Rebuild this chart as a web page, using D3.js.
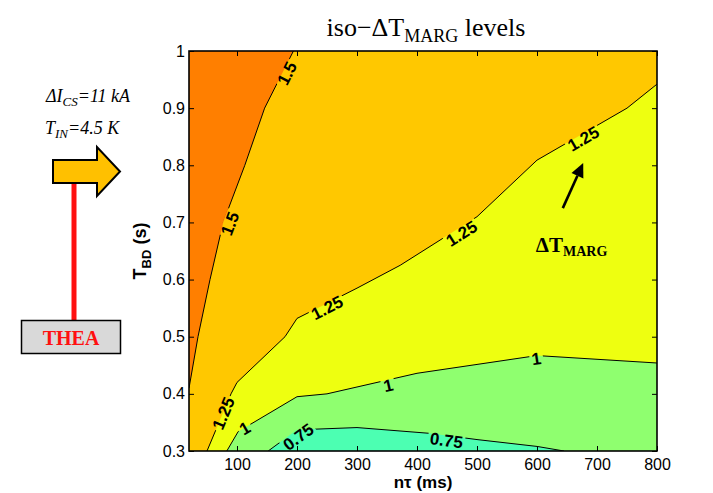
<!DOCTYPE html>
<html>
<head>
<meta charset="utf-8">
<script src="https://cdn.jsdelivr.net/npm/d3@7"></script>
<style>
  html, body { margin: 0; padding: 0; background: #fff; }
  svg { display: block; }
</style>
</head>
<body>
<div id="chart"></div>
<script>
// ---------------- data ----------------
const xDomain = [20, 800];          // n·tau (ms)
const yDomain = [0.3, 1.0];         // T_BD (s)
const xTicks = [100, 200, 300, 400, 500, 600, 700, 800];
const xTickLabels = ["100", "200", "300", "400", "500", "600", "700", "800"];
const yTicks = [0.3, 0.4, 0.5, 0.6, 0.7, 0.8, 0.9, 1.0];
const yTickLabels = ["0.3", "0.4", "0.5", "0.6", "0.7", "0.8", "0.9", "1"];

// iso-ΔT_MARG contour lines, [n·tau (ms), T_BD (s)]
const level150 = [[194, 1.0], [146, 0.9], [113, 0.8], [77, 0.7], [55, 0.6], [35, 0.5], [20, 0.41]];
const level125 = [[50, 0.3], [90, 0.4], [100, 0.42], [180, 0.5], [200, 0.532], [300, 0.585], [372, 0.625], [500, 0.71], [600, 0.809], [750, 0.9], [800, 0.942]];
const level100 = [[83, 0.3], [102, 0.334], [200, 0.395], [250, 0.40], [400, 0.436], [600, 0.467], [800, 0.454]];
const level075 = [[152, 0.3], [200, 0.337], [300, 0.341], [420, 0.331], [500, 0.32], [600, 0.308], [645, 0.3]];

const bandColors = ["#FF7F00", "#FFC800", "#EEFF10", "#8FFF6F", "#4CFFB2"]; // >1.5, 1.25-1.5, 1-1.25, 0.75-1, <0.75

// contour labels: text, level index, data position
const labelText = ["1.5", "1.5", "1.25", "1.25", "1.25", "1.25", "1", "1", "1", "0.75", "0.75"];
const labelLevel = [0, 0, 1, 1, 1, 1, 2, 2, 2, 3, 3];
const labelX = [183, 88, 677, 474, 250, 77, 113, 352, 599, 202, 449];
const labelY = [0.961, 0.698, 0.847, 0.681, 0.551, 0.366, 0.340, 0.415, 0.462, 0.325, 0.319];

const margArrow = [[643, 0.725], [677, 0.804]];
const margTextPos = [598, 0.649];

// ---------------- layout ----------------
const W = 713, H = 493;
const L = 189, R = 657, T = 51, B = 451;
const sans = "'Liberation Sans', Arial, Helvetica, sans-serif";
const serif = "'Liberation Serif', 'Times New Roman', Times, serif";

const svg = d3.select("#chart").append("svg")
  .attr("width", W).attr("height", H)
  .attr("viewBox", `0 0 ${W} ${H}`);

const x = d3.scaleLinear().domain(xDomain).range([L, R]);
const y = d3.scaleLinear().domain(yDomain).range([B, T]);

const defs = svg.append("defs");
defs.append("clipPath").attr("id", "plotClip")
  .append("rect").attr("x", L).attr("y", T).attr("width", R - L).attr("height", B - T);

const line = d3.line().x(d => x(d[0])).y(d => y(d[1]));

// ---------------- filled bands ----------------
const fills = svg.append("g").attr("clip-path", "url(#plotClip)");
fills.append("rect").attr("x", L).attr("y", T).attr("width", R - L).attr("height", B - T)
  .attr("fill", bandColors[1]);
fills.append("path").attr("d", line(level150.concat([[xDomain[0], yDomain[1]]])) + "Z")
  .attr("fill", bandColors[0]);
fills.append("path").attr("d", line(level125.concat([[xDomain[1], yDomain[0]]])) + "Z")
  .attr("fill", bandColors[2]);
fills.append("path").attr("d", line(level100.concat([[xDomain[1], yDomain[0]]])) + "Z")
  .attr("fill", bandColors[3]);
fills.append("path").attr("d", line(level075) + "Z")
  .attr("fill", bandColors[4]);

// ---------------- contour labels (measure first) ----------------
const levels = [level150, level125, level100, level075];
function localAngle(levelPts, px, py) {
  let best = Infinity, ang = 0;
  for (let i = 0; i < levelPts.length - 1; i++) {
    const ax = x(levelPts[i][0]), ay = y(levelPts[i][1]);
    const bx = x(levelPts[i + 1][0]), by = y(levelPts[i + 1][1]);
    const dx = bx - ax, dy = by - ay;
    const len2 = dx * dx + dy * dy;
    let t = ((px - ax) * dx + (py - ay) * dy) / len2;
    t = Math.max(0, Math.min(1, t));
    const cx = ax + t * dx, cy = ay + t * dy;
    const d = (px - cx) ** 2 + (py - cy) ** 2;
    if (d < best) {
      best = d;
      let a = Math.atan2(dy, dx) * 180 / Math.PI;
      if (a > 90) a -= 180;
      if (a < -90) a += 180;
      ang = a;
    }
  }
  return ang;
}

const labelData = labelText.map((t, i) => {
  const px = x(labelX[i]), py = y(labelY[i]);
  return { text: t, px, py, angle: localAngle(levels[labelLevel[i]], px, py) };
});

const labelsG = svg.append("g").attr("clip-path", "url(#plotClip)");
const labelNodes = labelsG.selectAll("text").data(labelData).enter().append("text")
  .attr("transform", d => `translate(${d.px},${d.py}) rotate(${d.angle})`)
  .attr("text-anchor", "middle")
  .attr("dy", "0.36em")
  .attr("font-family", sans)
  .attr("font-weight", "bold")
  .attr("font-size", 17)
  .attr("fill", "#000")
  .text(d => d.text);

labelNodes.each(function (d) { d.w = this.getComputedTextLength(); });

// mask to break contour lines under labels
const mask = defs.append("mask").attr("id", "lineMask").attr("maskUnits", "userSpaceOnUse")
  .attr("x", 0).attr("y", 0).attr("width", W).attr("height", H);
mask.append("rect").attr("x", 0).attr("y", 0).attr("width", W).attr("height", H).attr("fill", "#fff");
mask.selectAll("rect.hole").data(labelData).enter().append("rect")
  .attr("class", "hole")
  .attr("x", d => -d.w / 2 - 2).attr("y", -7.5).attr("width", d => d.w + 4).attr("height", 15)
  .attr("transform", d => `translate(${d.px},${d.py}) rotate(${d.angle})`)
  .attr("fill", "#000");

// ---------------- contour lines ----------------
const linesG = svg.insert("g", function () { return labelsG.node(); })
  .attr("clip-path", "url(#plotClip)");
const linesInner = linesG.append("g").attr("mask", "url(#lineMask)");
linesInner.selectAll("path").data(levels).enter().append("path")
  .attr("d", d => line(d))
  .attr("fill", "none")
  .attr("stroke", "#000")
  .attr("stroke-width", 1);

// ---------------- axes ----------------
const axFont = g => g.selectAll("text").attr("font-family", sans).attr("font-size", 16).attr("fill", "#000");
const axStyle = g => { g.select(".domain").remove(); g.selectAll("line").attr("stroke", "#000").attr("stroke-width", 1); };

svg.append("g").attr("transform", `translate(0,${B})`)
  .call(d3.axisBottom(x).tickValues(xTicks).tickFormat((d, i) => xTickLabels[i]).tickSizeInner(-5).tickSizeOuter(0).tickPadding(8))
  .call(axStyle).call(axFont);
svg.append("g").attr("transform", `translate(0,${T})`)
  .call(d3.axisTop(x).tickValues(xTicks).tickFormat("").tickSizeInner(-5).tickSizeOuter(0))
  .call(axStyle);
svg.append("g").attr("transform", `translate(${L},0)`)
  .call(d3.axisLeft(y).tickValues(yTicks).tickFormat((d, i) => yTickLabels[i]).tickSizeInner(-5).tickSizeOuter(0).tickPadding(4))
  .call(axStyle).call(axFont);
svg.append("g").attr("transform", `translate(${R},0)`)
  .call(d3.axisRight(y).tickValues(yTicks).tickFormat("").tickSizeInner(-5).tickSizeOuter(0))
  .call(axStyle);

svg.append("rect").attr("x", L).attr("y", T).attr("width", R - L).attr("height", B - T)
  .attr("fill", "none").attr("stroke", "#000").attr("stroke-width", 1.6);

// axis titles
const xl = svg.append("text").attr("x", (L + R) / 2).attr("y", 488).attr("text-anchor", "middle")
  .attr("font-family", sans).attr("font-weight", "bold").attr("font-size", 17).attr("fill", "#000");
xl.text("nτ (ms)");

const yl = svg.append("text").attr("transform", `translate(146,${(T + B) / 2}) rotate(-90)`)
  .attr("text-anchor", "middle").attr("font-family", sans).attr("font-weight", "bold").attr("fill", "#000");
yl.append("tspan").attr("font-size", 18).text("T");
yl.append("tspan").attr("font-size", 13).attr("dy", 5).text("BD");
yl.append("tspan").attr("font-size", 18).attr("dy", -5).text(" (s)");

// title
const title = svg.append("text").attr("x", 426).attr("y", 36).attr("text-anchor", "middle")
  .attr("font-family", serif).attr("font-size", 26).attr("fill", "#000");
title.append("tspan").text("iso−ΔT");
title.append("tspan").attr("font-size", 18).attr("dy", 6).text("MARG");
title.append("tspan").attr("dy", -6).text(" levels");

// ΔT_MARG annotation arrow
const a0 = [x(margArrow[0][0]), y(margArrow[0][1])];
const a1 = [x(margArrow[1][0]), y(margArrow[1][1])];
const ang = Math.atan2(a1[1] - a0[1], a1[0] - a0[0]);
const headLen = 14, headW = 6.5;
const base = [a1[0] - headLen * Math.cos(ang), a1[1] - headLen * Math.sin(ang)];
svg.append("line").attr("x1", a0[0]).attr("y1", a0[1]).attr("x2", base[0]).attr("y2", base[1])
  .attr("stroke", "#000").attr("stroke-width", 2.6);
svg.append("path").attr("d", `M${a1[0]},${a1[1]} L${base[0] - headW * Math.sin(ang)},${base[1] + headW * Math.cos(ang)} L${base[0] + headW * Math.sin(ang)},${base[1] - headW * Math.cos(ang)} Z`)
  .attr("fill", "#000");

const mt = svg.append("text").attr("x", x(margTextPos[0])).attr("y", y(margTextPos[1]))
  .attr("font-family", serif).attr("font-weight", "bold").attr("fill", "#000");
mt.append("tspan").attr("font-size", 21).text("ΔT");
mt.append("tspan").attr("font-size", 14).attr("dy", 4).text("MARG");

// ---------------- left-side schematic ----------------
const ann1 = svg.append("text").attr("x", 46).attr("y", 102)
  .attr("font-family", serif).attr("font-style", "italic").attr("fill", "#000");
ann1.append("tspan").attr("font-size", 18).text("ΔI");
ann1.append("tspan").attr("font-size", 13).attr("dy", 4).text("CS");
ann1.append("tspan").attr("font-size", 18).attr("dy", -4).text("=11 kA");

const ann2 = svg.append("text").attr("x", 45).attr("y", 133.5)
  .attr("font-family", serif).attr("font-style", "italic").attr("fill", "#000");
ann2.append("tspan").attr("font-size", 18).text("T");
ann2.append("tspan").attr("font-size", 13).attr("dy", 4).text("IN");
ann2.append("tspan").attr("font-size", 18).attr("dy", -4).text("=4.5 K");

svg.append("line").attr("x1", 74).attr("y1", 183).attr("x2", 74).attr("y2", 321)
  .attr("stroke", "#FF1010").attr("stroke-width", 5);

svg.append("path")
  .attr("d", "M53,160 L97,160 L97,147 L120,171.5 L97,196 L97,183 L53,183 Z")
  .attr("fill", "#FFC000").attr("stroke", "#000").attr("stroke-width", 2).attr("stroke-linejoin", "miter");

svg.append("rect").attr("x", 21.5).attr("y", 320.5).attr("width", 99).attr("height", 33)
  .attr("fill", "#D9D9D9").attr("stroke", "#000").attr("stroke-width", 1.5);
svg.append("text").attr("x", 71).attr("y", 345).attr("text-anchor", "middle")
  .attr("font-family", serif).attr("font-weight", "bold").attr("font-size", 20).attr("fill", "#FF1010")
  .text("THEA");
</script>
</body>
</html>
